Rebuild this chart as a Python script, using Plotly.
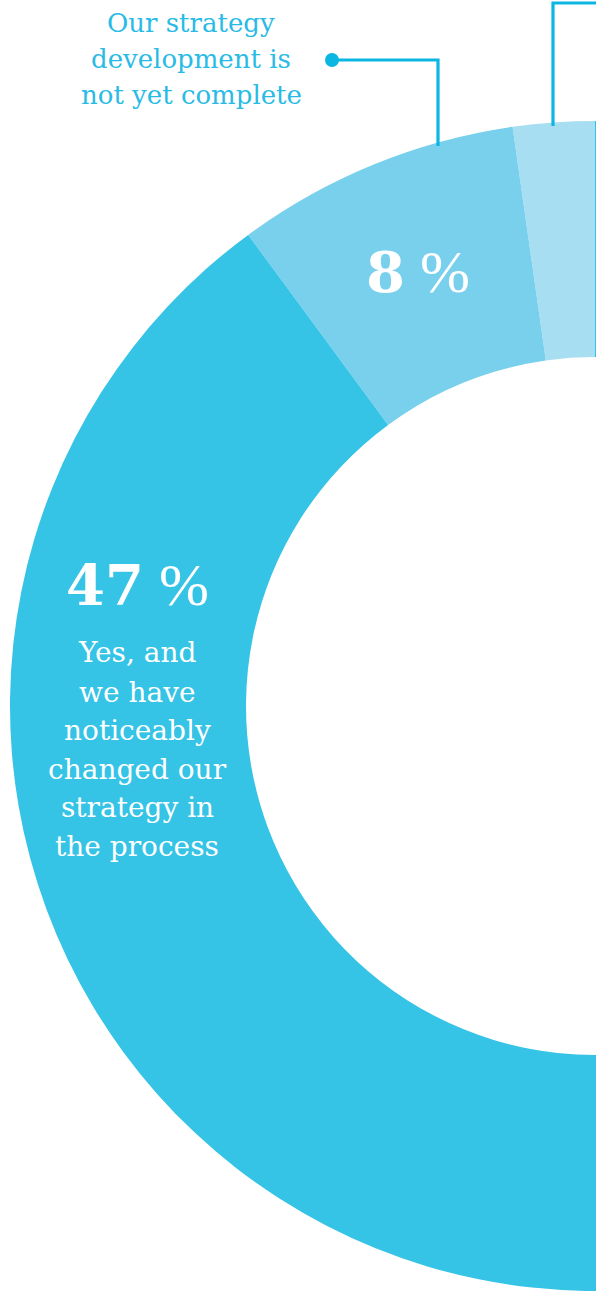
import plotly.graph_objects as go

# ---- data ----
# Plotly's counterclockwise pies place the first slice just right of 12 o'clock,
# so the off-canvas remainder comes first and the visible slices follow leftwards.
categories = [
    "Remaining answers (off-canvas)",
    "Other answer (label off-canvas)",
    "Our strategy development is not yet complete",
    "Yes, and we have noticeably changed our strategy in the process",
]
values = [42.9, 2.25, 7.85, 47.0]
slice_colors = ["#33C1E5", "#A8DEF2", "#78D0EC", "#35C3E6"]

desc_lines = ["Yes, and", "we have", "noticeably", "changed our", "strategy in", "the process"]
callout_lines = ["Our strategy", "development is", "not yet complete"]

W, H = 1192, 1292
CX, CY, R, R_IN = 595, 706, 585, 349


def px(x):
    return x / W


def py(y):
    return 1 - y / H


fig = go.Figure()
fig.add_trace(go.Pie(
    labels=categories,
    values=values,
    sort=False,
    direction="counterclockwise",
    rotation=0,
    hole=R_IN / R,
    marker=dict(colors=slice_colors, line=dict(width=0)),
    textinfo="none",
    hoverinfo="label+percent",
    showlegend=False,
    domain=dict(x=[px(CX - R), px(CX + R)], y=[py(CY + R), py(CY - R)]),
))

white = "#FFFFFF"
accent = "#0BB6E3"
label_blue = "#29BBE5"


def pct_label(v):
    return ("<span style=\"font-family:'DejaVu Serif';font-weight:bold;font-size:56px\">%d</span> %%"
            % round(v))


# percent labels
fig.add_annotation(x=px(418), y=py(272), xref="paper", yref="paper",
                   text=pct_label(values[2]), showarrow=False,
                   font=dict(family="Liberation Serif", size=60, color=white),
                   xanchor="center", yanchor="middle")
fig.add_annotation(x=px(137), y=py(585), xref="paper", yref="paper",
                   text=pct_label(values[3]), showarrow=False,
                   font=dict(family="Liberation Serif", size=60, color=white),
                   xanchor="center", yanchor="middle")

desc_y = [653, 692, 730, 769, 807, 846]
for line, yy in zip(desc_lines, desc_y):
    fig.add_annotation(x=px(137), y=py(yy), xref="paper", yref="paper",
                       text=line, showarrow=False,
                       font=dict(family="DejaVu Serif", size=28, color=white),
                       xanchor="center", yanchor="middle")

callout_y = [23, 59, 95]
for line, yy in zip(callout_lines, callout_y):
    fig.add_annotation(x=px(191), y=py(yy), xref="paper", yref="paper",
                       text=line, showarrow=False,
                       font=dict(family="DejaVu Serif", size=26, color=label_blue),
                       xanchor="center", yanchor="middle")

# connector lines
fig.add_shape(type="path", xref="paper", yref="paper",
              path="M %f,%f L %f,%f L %f,%f" % (px(332), py(60), px(438), py(60), px(438), py(146)),
              line=dict(color=accent, width=3.2))
fig.add_shape(type="circle", xref="paper", yref="paper",
              x0=px(325), x1=px(339), y0=py(67), y1=py(53),
              fillcolor=accent, line=dict(width=0))
fig.add_shape(type="path", xref="paper", yref="paper",
              path="M %f,%f L %f,%f L %f,%f" % (px(553), py(126), px(553), py(3), px(640), py(3)),
              line=dict(color=accent, width=3.2))

fig.update_layout(
    width=W, height=H,
    margin=dict(l=0, r=0, t=0, b=0),
    paper_bgcolor="white", plot_bgcolor="white",
)

fig.write_html(
    "out.html",
    post_script="document.body.style.margin='0';document.body.style.overflow='hidden';"
                "document.documentElement.style.overflow='hidden';",
)
